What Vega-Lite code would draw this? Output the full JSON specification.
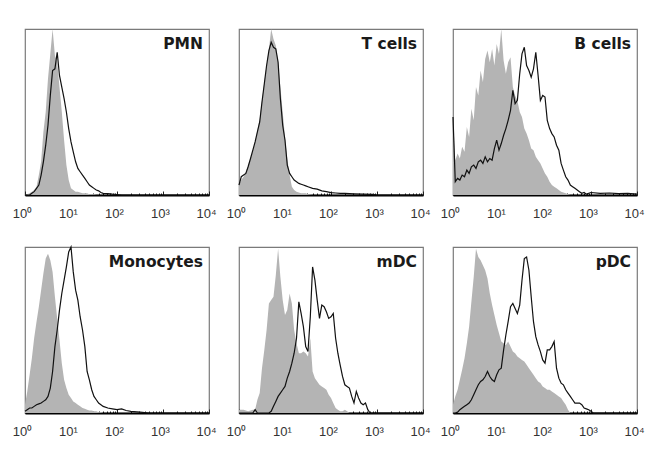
{
  "$schema": "https://vega.github.io/schema/vega-lite/v6.json",
  "padding": {"left": 11, "top": 27, "right": 4, "bottom": 4},
  "background": "white",
  "data": {"values": [
    {"panel":"PMN","x":1,"iso":0,"stain":0},
    {"panel":"PMN","x":1.12,"iso":0.5,"stain":0},
    {"panel":"PMN","x":1.26,"iso":1,"stain":0},
    {"panel":"PMN","x":1.41,"iso":2,"stain":1},
    {"panel":"PMN","x":1.58,"iso":3,"stain":2},
    {"panel":"PMN","x":1.78,"iso":5,"stain":4},
    {"panel":"PMN","x":2.0,"iso":12,"stain":6},
    {"panel":"PMN","x":2.24,"iso":20,"stain":12},
    {"panel":"PMN","x":2.51,"iso":38,"stain":20},
    {"panel":"PMN","x":2.82,"iso":50,"stain":30},
    {"panel":"PMN","x":3.16,"iso":70,"stain":42},
    {"panel":"PMN","x":3.55,"iso":85,"stain":60},
    {"panel":"PMN","x":3.98,"iso":100,"stain":75},
    {"panel":"PMN","x":4.47,"iso":84,"stain":76},
    {"panel":"PMN","x":5.01,"iso":80,"stain":86},
    {"panel":"PMN","x":5.62,"iso":65,"stain":72},
    {"panel":"PMN","x":6.31,"iso":50,"stain":65},
    {"panel":"PMN","x":7.08,"iso":33,"stain":58},
    {"panel":"PMN","x":7.94,"iso":18,"stain":50},
    {"panel":"PMN","x":8.91,"iso":9,"stain":40},
    {"panel":"PMN","x":10,"iso":4,"stain":32},
    {"panel":"PMN","x":11.2,"iso":3,"stain":26},
    {"panel":"PMN","x":12.6,"iso":2,"stain":20},
    {"panel":"PMN","x":14.1,"iso":2,"stain":16},
    {"panel":"PMN","x":15.8,"iso":1.5,"stain":14},
    {"panel":"PMN","x":17.8,"iso":1,"stain":12},
    {"panel":"PMN","x":20,"iso":1,"stain":10},
    {"panel":"PMN","x":22.4,"iso":1,"stain":8},
    {"panel":"PMN","x":25.1,"iso":0.5,"stain":6},
    {"panel":"PMN","x":28.2,"iso":0.5,"stain":5},
    {"panel":"PMN","x":31.6,"iso":0.5,"stain":4},
    {"panel":"PMN","x":35.5,"iso":0,"stain":3},
    {"panel":"PMN","x":39.8,"iso":0,"stain":2.5},
    {"panel":"PMN","x":44.7,"iso":0,"stain":1.5},
    {"panel":"PMN","x":50.1,"iso":0,"stain":1},
    {"panel":"PMN","x":63.1,"iso":0,"stain":0.8},
    {"panel":"PMN","x":79.4,"iso":0,"stain":0.5},
    {"panel":"PMN","x":100,"iso":0,"stain":0.3},
    {"panel":"PMN","x":126,"iso":0,"stain":0},
    {"panel":"PMN","x":1000,"iso":0,"stain":0},
    {"panel":"PMN","x":10000,"iso":0,"stain":0},

    {"panel":"T cells","x":1,"iso":6,"stain":6},
    {"panel":"T cells","x":1.12,"iso":9,"stain":11},
    {"panel":"T cells","x":1.26,"iso":11,"stain":12},
    {"panel":"T cells","x":1.41,"iso":14,"stain":13},
    {"panel":"T cells","x":1.58,"iso":18,"stain":17},
    {"panel":"T cells","x":1.78,"iso":22,"stain":22},
    {"panel":"T cells","x":2.0,"iso":27,"stain":27},
    {"panel":"T cells","x":2.24,"iso":32,"stain":32},
    {"panel":"T cells","x":2.51,"iso":39,"stain":38},
    {"panel":"T cells","x":2.82,"iso":46,"stain":44},
    {"panel":"T cells","x":3.16,"iso":57,"stain":56},
    {"panel":"T cells","x":3.55,"iso":68,"stain":67},
    {"panel":"T cells","x":3.98,"iso":78,"stain":78},
    {"panel":"T cells","x":4.47,"iso":88,"stain":87},
    {"panel":"T cells","x":5.01,"iso":100,"stain":92},
    {"panel":"T cells","x":5.62,"iso":94,"stain":89},
    {"panel":"T cells","x":6.31,"iso":90,"stain":88},
    {"panel":"T cells","x":7.08,"iso":80,"stain":80},
    {"panel":"T cells","x":7.94,"iso":65,"stain":58},
    {"panel":"T cells","x":8.91,"iso":50,"stain":42},
    {"panel":"T cells","x":10,"iso":35,"stain":33},
    {"panel":"T cells","x":11.2,"iso":22,"stain":18},
    {"panel":"T cells","x":12.6,"iso":12,"stain":13},
    {"panel":"T cells","x":14.1,"iso":5,"stain":11},
    {"panel":"T cells","x":15.8,"iso":3,"stain":9},
    {"panel":"T cells","x":17.8,"iso":2,"stain":8},
    {"panel":"T cells","x":20,"iso":1.5,"stain":7},
    {"panel":"T cells","x":22.4,"iso":1,"stain":6.5},
    {"panel":"T cells","x":25.1,"iso":1,"stain":6},
    {"panel":"T cells","x":28.2,"iso":1,"stain":5.5},
    {"panel":"T cells","x":31.6,"iso":0.5,"stain":5},
    {"panel":"T cells","x":39.8,"iso":0,"stain":4},
    {"panel":"T cells","x":50.1,"iso":0,"stain":3.5},
    {"panel":"T cells","x":63.1,"iso":0,"stain":2.5},
    {"panel":"T cells","x":79.4,"iso":0,"stain":2},
    {"panel":"T cells","x":100,"iso":0,"stain":1.4},
    {"panel":"T cells","x":126,"iso":0,"stain":1.2},
    {"panel":"T cells","x":158,"iso":0,"stain":1},
    {"panel":"T cells","x":200,"iso":0,"stain":1},
    {"panel":"T cells","x":316,"iso":0,"stain":0.7},
    {"panel":"T cells","x":501,"iso":0,"stain":0.5},
    {"panel":"T cells","x":794,"iso":0,"stain":0.4},
    {"panel":"T cells","x":1000,"iso":0,"stain":0},
    {"panel":"T cells","x":10000,"iso":0,"stain":0},

    {"panel":"B cells","x":1,"iso":47,"stain":47},
    {"panel":"B cells","x":1.12,"iso":21,"stain":8},
    {"panel":"B cells","x":1.26,"iso":25,"stain":10},
    {"panel":"B cells","x":1.41,"iso":22,"stain":9},
    {"panel":"B cells","x":1.58,"iso":29,"stain":12},
    {"panel":"B cells","x":1.78,"iso":26,"stain":11},
    {"panel":"B cells","x":2.0,"iso":41,"stain":15},
    {"panel":"B cells","x":2.24,"iso":35,"stain":13},
    {"panel":"B cells","x":2.51,"iso":52,"stain":17},
    {"panel":"B cells","x":2.82,"iso":45,"stain":18},
    {"panel":"B cells","x":3.16,"iso":65,"stain":16},
    {"panel":"B cells","x":3.55,"iso":60,"stain":20},
    {"panel":"B cells","x":3.98,"iso":75,"stain":21},
    {"panel":"B cells","x":4.47,"iso":68,"stain":19},
    {"panel":"B cells","x":5.01,"iso":82,"stain":23},
    {"panel":"B cells","x":5.62,"iso":87,"stain":20},
    {"panel":"B cells","x":6.31,"iso":80,"stain":22},
    {"panel":"B cells","x":7.08,"iso":88,"stain":21},
    {"panel":"B cells","x":7.94,"iso":78,"stain":28},
    {"panel":"B cells","x":8.91,"iso":91,"stain":33},
    {"panel":"B cells","x":10,"iso":85,"stain":27},
    {"panel":"B cells","x":11.2,"iso":100,"stain":31},
    {"panel":"B cells","x":12.6,"iso":81,"stain":36},
    {"panel":"B cells","x":14.1,"iso":73,"stain":40},
    {"panel":"B cells","x":15.8,"iso":80,"stain":45},
    {"panel":"B cells","x":17.8,"iso":83,"stain":51},
    {"panel":"B cells","x":20,"iso":65,"stain":63},
    {"panel":"B cells","x":22.4,"iso":60,"stain":55},
    {"panel":"B cells","x":25.1,"iso":57,"stain":57},
    {"panel":"B cells","x":28.2,"iso":50,"stain":73},
    {"panel":"B cells","x":31.6,"iso":47,"stain":85},
    {"panel":"B cells","x":35.5,"iso":40,"stain":89},
    {"panel":"B cells","x":39.8,"iso":37,"stain":78},
    {"panel":"B cells","x":44.7,"iso":33,"stain":75},
    {"panel":"B cells","x":50.1,"iso":28,"stain":71},
    {"panel":"B cells","x":56.2,"iso":27,"stain":76},
    {"panel":"B cells","x":63.1,"iso":23,"stain":86},
    {"panel":"B cells","x":70.8,"iso":21,"stain":72},
    {"panel":"B cells","x":79.4,"iso":19,"stain":57},
    {"panel":"B cells","x":89.1,"iso":16,"stain":60},
    {"panel":"B cells","x":100,"iso":13,"stain":59},
    {"panel":"B cells","x":112,"iso":11,"stain":45},
    {"panel":"B cells","x":126,"iso":8,"stain":40},
    {"panel":"B cells","x":141,"iso":6,"stain":37},
    {"panel":"B cells","x":158,"iso":5,"stain":35},
    {"panel":"B cells","x":178,"iso":4,"stain":30},
    {"panel":"B cells","x":200,"iso":3,"stain":27},
    {"panel":"B cells","x":224,"iso":2,"stain":19},
    {"panel":"B cells","x":251,"iso":1.5,"stain":15},
    {"panel":"B cells","x":282,"iso":1,"stain":11},
    {"panel":"B cells","x":316,"iso":0.5,"stain":9},
    {"panel":"B cells","x":355,"iso":0,"stain":6},
    {"panel":"B cells","x":398,"iso":0,"stain":5},
    {"panel":"B cells","x":447,"iso":0,"stain":4},
    {"panel":"B cells","x":501,"iso":0,"stain":3},
    {"panel":"B cells","x":562,"iso":0,"stain":2},
    {"panel":"B cells","x":631,"iso":0,"stain":1},
    {"panel":"B cells","x":708,"iso":0,"stain":1.5},
    {"panel":"B cells","x":794,"iso":0,"stain":0.5},
    {"panel":"B cells","x":1000,"iso":0,"stain":1.5},
    {"panel":"B cells","x":1585,"iso":0,"stain":1},
    {"panel":"B cells","x":2512,"iso":0,"stain":1.2},
    {"panel":"B cells","x":3981,"iso":0,"stain":0.8},
    {"panel":"B cells","x":6310,"iso":0,"stain":1},
    {"panel":"B cells","x":10000,"iso":0,"stain":0.5},

    {"panel":"Monocytes","x":1,"iso":5,"stain":1},
    {"panel":"Monocytes","x":1.12,"iso":13,"stain":2},
    {"panel":"Monocytes","x":1.26,"iso":23,"stain":3},
    {"panel":"Monocytes","x":1.41,"iso":33,"stain":3},
    {"panel":"Monocytes","x":1.58,"iso":45,"stain":4},
    {"panel":"Monocytes","x":1.78,"iso":55,"stain":5},
    {"panel":"Monocytes","x":2.0,"iso":64,"stain":5.5},
    {"panel":"Monocytes","x":2.24,"iso":74,"stain":6},
    {"panel":"Monocytes","x":2.51,"iso":84,"stain":7},
    {"panel":"Monocytes","x":2.82,"iso":93,"stain":8},
    {"panel":"Monocytes","x":3.16,"iso":96,"stain":10},
    {"panel":"Monocytes","x":3.55,"iso":92,"stain":15},
    {"panel":"Monocytes","x":3.98,"iso":85,"stain":25},
    {"panel":"Monocytes","x":4.47,"iso":70,"stain":40},
    {"panel":"Monocytes","x":5.01,"iso":57,"stain":50},
    {"panel":"Monocytes","x":5.62,"iso":44,"stain":62},
    {"panel":"Monocytes","x":6.31,"iso":30,"stain":72},
    {"panel":"Monocytes","x":7.08,"iso":20,"stain":80},
    {"panel":"Monocytes","x":7.94,"iso":15,"stain":88},
    {"panel":"Monocytes","x":8.91,"iso":11,"stain":97},
    {"panel":"Monocytes","x":10,"iso":9,"stain":100},
    {"panel":"Monocytes","x":11.2,"iso":7,"stain":85},
    {"panel":"Monocytes","x":12.6,"iso":6,"stain":74},
    {"panel":"Monocytes","x":14.1,"iso":5,"stain":68},
    {"panel":"Monocytes","x":15.8,"iso":4,"stain":58},
    {"panel":"Monocytes","x":17.8,"iso":3,"stain":50},
    {"panel":"Monocytes","x":20,"iso":2.5,"stain":40},
    {"panel":"Monocytes","x":22.4,"iso":2,"stain":25},
    {"panel":"Monocytes","x":25.1,"iso":1.5,"stain":20},
    {"panel":"Monocytes","x":28.2,"iso":1.5,"stain":14},
    {"panel":"Monocytes","x":31.6,"iso":1,"stain":10},
    {"panel":"Monocytes","x":35.5,"iso":1,"stain":8},
    {"panel":"Monocytes","x":39.8,"iso":0.5,"stain":6},
    {"panel":"Monocytes","x":44.7,"iso":0.5,"stain":5},
    {"panel":"Monocytes","x":50.1,"iso":0,"stain":4},
    {"panel":"Monocytes","x":63.1,"iso":0,"stain":3},
    {"panel":"Monocytes","x":79.4,"iso":0,"stain":2.5},
    {"panel":"Monocytes","x":100,"iso":0,"stain":2},
    {"panel":"Monocytes","x":126,"iso":0,"stain":2.5},
    {"panel":"Monocytes","x":158,"iso":0,"stain":1.5},
    {"panel":"Monocytes","x":200,"iso":0,"stain":1},
    {"panel":"Monocytes","x":316,"iso":0,"stain":0.5},
    {"panel":"Monocytes","x":501,"iso":0,"stain":0},
    {"panel":"Monocytes","x":10000,"iso":0,"stain":0},

    {"panel":"mDC","x":1,"iso":2,"stain":0},
    {"panel":"mDC","x":1.26,"iso":2,"stain":0},
    {"panel":"mDC","x":1.58,"iso":1,"stain":0},
    {"panel":"mDC","x":2.0,"iso":2,"stain":0},
    {"panel":"mDC","x":2.24,"iso":2,"stain":2},
    {"panel":"mDC","x":2.51,"iso":8,"stain":0},
    {"panel":"mDC","x":2.82,"iso":12,"stain":0},
    {"panel":"mDC","x":3.16,"iso":27,"stain":0},
    {"panel":"mDC","x":3.55,"iso":38,"stain":0},
    {"panel":"mDC","x":3.98,"iso":50,"stain":0},
    {"panel":"mDC","x":4.47,"iso":66,"stain":0},
    {"panel":"mDC","x":5.01,"iso":68,"stain":1},
    {"panel":"mDC","x":5.62,"iso":70,"stain":4},
    {"panel":"mDC","x":6.31,"iso":83,"stain":7},
    {"panel":"mDC","x":7.08,"iso":99,"stain":10},
    {"panel":"mDC","x":7.94,"iso":82,"stain":12},
    {"panel":"mDC","x":8.91,"iso":68,"stain":14},
    {"panel":"mDC","x":10,"iso":59,"stain":16},
    {"panel":"mDC","x":11.2,"iso":62,"stain":21},
    {"panel":"mDC","x":12.6,"iso":72,"stain":25},
    {"panel":"mDC","x":14.1,"iso":66,"stain":30},
    {"panel":"mDC","x":15.8,"iso":50,"stain":36},
    {"panel":"mDC","x":17.8,"iso":42,"stain":45},
    {"panel":"mDC","x":20,"iso":36,"stain":67},
    {"panel":"mDC","x":22.4,"iso":36,"stain":60},
    {"panel":"mDC","x":25.1,"iso":37,"stain":52},
    {"panel":"mDC","x":28.2,"iso":36,"stain":40},
    {"panel":"mDC","x":31.6,"iso":34,"stain":37},
    {"panel":"mDC","x":35.5,"iso":45,"stain":58},
    {"panel":"mDC","x":39.8,"iso":25,"stain":88},
    {"panel":"mDC","x":44.7,"iso":21,"stain":80},
    {"panel":"mDC","x":50.1,"iso":19,"stain":68},
    {"panel":"mDC","x":56.2,"iso":17,"stain":57},
    {"panel":"mDC","x":63.1,"iso":16,"stain":65},
    {"panel":"mDC","x":70.8,"iso":15,"stain":64},
    {"panel":"mDC","x":79.4,"iso":14,"stain":61},
    {"panel":"mDC","x":89.1,"iso":11,"stain":57},
    {"panel":"mDC","x":100,"iso":9,"stain":58},
    {"panel":"mDC","x":112,"iso":6,"stain":60},
    {"panel":"mDC","x":126,"iso":3,"stain":45},
    {"panel":"mDC","x":141,"iso":2,"stain":36},
    {"panel":"mDC","x":158,"iso":1,"stain":29},
    {"panel":"mDC","x":178,"iso":1,"stain":22},
    {"panel":"mDC","x":200,"iso":2,"stain":17},
    {"panel":"mDC","x":224,"iso":1,"stain":16},
    {"panel":"mDC","x":251,"iso":0,"stain":15},
    {"panel":"mDC","x":282,"iso":0,"stain":10},
    {"panel":"mDC","x":316,"iso":0,"stain":6},
    {"panel":"mDC","x":355,"iso":0,"stain":13},
    {"panel":"mDC","x":398,"iso":0,"stain":9},
    {"panel":"mDC","x":447,"iso":0,"stain":6},
    {"panel":"mDC","x":501,"iso":0,"stain":5},
    {"panel":"mDC","x":562,"iso":0,"stain":6},
    {"panel":"mDC","x":631,"iso":0,"stain":2},
    {"panel":"mDC","x":708,"iso":0,"stain":0},
    {"panel":"mDC","x":10000,"iso":0,"stain":0},

    {"panel":"pDC","x":1,"iso":5,"stain":0},
    {"panel":"pDC","x":1.12,"iso":10,"stain":0},
    {"panel":"pDC","x":1.26,"iso":14,"stain":0.5},
    {"panel":"pDC","x":1.41,"iso":20,"stain":2},
    {"panel":"pDC","x":1.58,"iso":26,"stain":3},
    {"panel":"pDC","x":1.78,"iso":33,"stain":4},
    {"panel":"pDC","x":2.0,"iso":42,"stain":5},
    {"panel":"pDC","x":2.24,"iso":52,"stain":6},
    {"panel":"pDC","x":2.51,"iso":67,"stain":8},
    {"panel":"pDC","x":2.82,"iso":82,"stain":11},
    {"panel":"pDC","x":3.16,"iso":99,"stain":14},
    {"panel":"pDC","x":3.55,"iso":94,"stain":17},
    {"panel":"pDC","x":3.98,"iso":92,"stain":19},
    {"panel":"pDC","x":4.47,"iso":89,"stain":20},
    {"panel":"pDC","x":5.01,"iso":86,"stain":22},
    {"panel":"pDC","x":5.62,"iso":81,"stain":25},
    {"panel":"pDC","x":6.31,"iso":72,"stain":22},
    {"panel":"pDC","x":7.08,"iso":65,"stain":20},
    {"panel":"pDC","x":7.94,"iso":59,"stain":19},
    {"panel":"pDC","x":8.91,"iso":53,"stain":23},
    {"panel":"pDC","x":10,"iso":48,"stain":26},
    {"panel":"pDC","x":11.2,"iso":43,"stain":27},
    {"panel":"pDC","x":12.6,"iso":42,"stain":38},
    {"panel":"pDC","x":14.1,"iso":41,"stain":47},
    {"panel":"pDC","x":15.8,"iso":43,"stain":55},
    {"panel":"pDC","x":17.8,"iso":40,"stain":64},
    {"panel":"pDC","x":20,"iso":37,"stain":66},
    {"panel":"pDC","x":22.4,"iso":36,"stain":63},
    {"panel":"pDC","x":25.1,"iso":34,"stain":60},
    {"panel":"pDC","x":28.2,"iso":33,"stain":65},
    {"panel":"pDC","x":31.6,"iso":32,"stain":80},
    {"panel":"pDC","x":35.5,"iso":31,"stain":93},
    {"panel":"pDC","x":39.8,"iso":29,"stain":94},
    {"panel":"pDC","x":44.7,"iso":27,"stain":86},
    {"panel":"pDC","x":50.1,"iso":25,"stain":70},
    {"panel":"pDC","x":56.2,"iso":23,"stain":55},
    {"panel":"pDC","x":63.1,"iso":21,"stain":46},
    {"panel":"pDC","x":70.8,"iso":19,"stain":41},
    {"panel":"pDC","x":79.4,"iso":18,"stain":37},
    {"panel":"pDC","x":89.1,"iso":16,"stain":32},
    {"panel":"pDC","x":100,"iso":15,"stain":30},
    {"panel":"pDC","x":112,"iso":14,"stain":38},
    {"panel":"pDC","x":126,"iso":14,"stain":38},
    {"panel":"pDC","x":141,"iso":13,"stain":40},
    {"panel":"pDC","x":158,"iso":12,"stain":43},
    {"panel":"pDC","x":178,"iso":11,"stain":27},
    {"panel":"pDC","x":200,"iso":10,"stain":21},
    {"panel":"pDC","x":224,"iso":9,"stain":18},
    {"panel":"pDC","x":251,"iso":7,"stain":17},
    {"panel":"pDC","x":282,"iso":5,"stain":14},
    {"panel":"pDC","x":316,"iso":2,"stain":12},
    {"panel":"pDC","x":355,"iso":0,"stain":10},
    {"panel":"pDC","x":398,"iso":0,"stain":8},
    {"panel":"pDC","x":447,"iso":0,"stain":6},
    {"panel":"pDC","x":501,"iso":0,"stain":6},
    {"panel":"pDC","x":562,"iso":0,"stain":6},
    {"panel":"pDC","x":631,"iso":0,"stain":5},
    {"panel":"pDC","x":708,"iso":0,"stain":3},
    {"panel":"pDC","x":794,"iso":0,"stain":2.5},
    {"panel":"pDC","x":891,"iso":0,"stain":2},
    {"panel":"pDC","x":1000,"iso":0,"stain":1},
    {"panel":"pDC","x":1122,"iso":0,"stain":0},
    {"panel":"pDC","x":10000,"iso":0,"stain":0}
  ]},
  "facet": {
    "field": "panel",
    "type": "nominal",
    "sort": ["PMN", "T cells", "B cells", "Monocytes", "mDC", "pDC"],
    "title": null,
    "header": {"labels": false, "title": null, "labelExpr": "''", "labelFontSize": 1, "labelPadding": 0, "titlePadding": 0}
  },
  "columns": 3,
  "spacing": {"column": 8, "row": 20},
  "resolve": {"axis": {"x": "independent"}},
  "spec": {
    "width": 184,
    "height": 166,
    "layer": [
      {
        "mark": {"type": "area", "color": "#b4b4b4", "opacity": 1},
        "encoding": {
          "x": {
            "field": "x",
            "type": "quantitative",
            "scale": {"type": "log", "domain": [1, 10000]},
            "axis": {
              "title": null,
              "grid": false,
              "values": [1,2,3,4,5,6,7,8,9,10,20,30,40,50,60,70,80,90,100,200,300,400,500,600,700,800,900,1000,2000,3000,4000,5000,6000,7000,8000,9000,10000],
              "labelExpr": "datum.value==1?'10⁰':datum.value==10?'10¹':datum.value==100?'10²':datum.value==1000?'10³':datum.value==10000?'10⁴':''",
              "tickSize": {"condition": {"test": "indexof([1,10,100,1000,10000], datum.value) >= 0", "value": -4}, "value": -2},
              "tickColor": "#222",
              "tickWidth": 1,
              "domainColor": "#000",
              "domainWidth": 2,
              "labelFont": "Liberation Sans",
              "labelFontSize": 13,
              "labelColor": "#333",
              "labelOverlap": false,
              "labelFlush": false,
              "labelBound": false,
              "labelOffset": -3,
              "labelPadding": 16
            }
          },
          "y": {"field": "iso", "type": "quantitative", "scale": {"domain": [0, 100]}, "axis": null}
        }
      },
      {
        "mark": {"type": "line", "color": "#111111", "strokeWidth": 1.2},
        "encoding": {
          "x": {"field": "x", "type": "quantitative"},
          "y": {"field": "stain", "type": "quantitative"}
        }
      },
      {
        "transform": [{"aggregate": [{"op": "count", "as": "n"}], "groupby": ["panel"]}],
        "mark": {"type": "text", "align": "right", "baseline": "top", "dx": -6, "dy": 8, "font": "DejaVu Sans", "fontWeight": "bold", "fontSize": 15.5, "color": "#1a1a1a"},
        "encoding": {
          "x": {"datum": 10000},
          "y": {"datum": 100},
          "text": {"field": "panel", "type": "nominal"}
        }
      }
    ]
  },
  "config": {
    "view": {"stroke": "#7a7a7a", "strokeWidth": 1.2},
    "header": {"labels": false, "title": null}
  }
}
